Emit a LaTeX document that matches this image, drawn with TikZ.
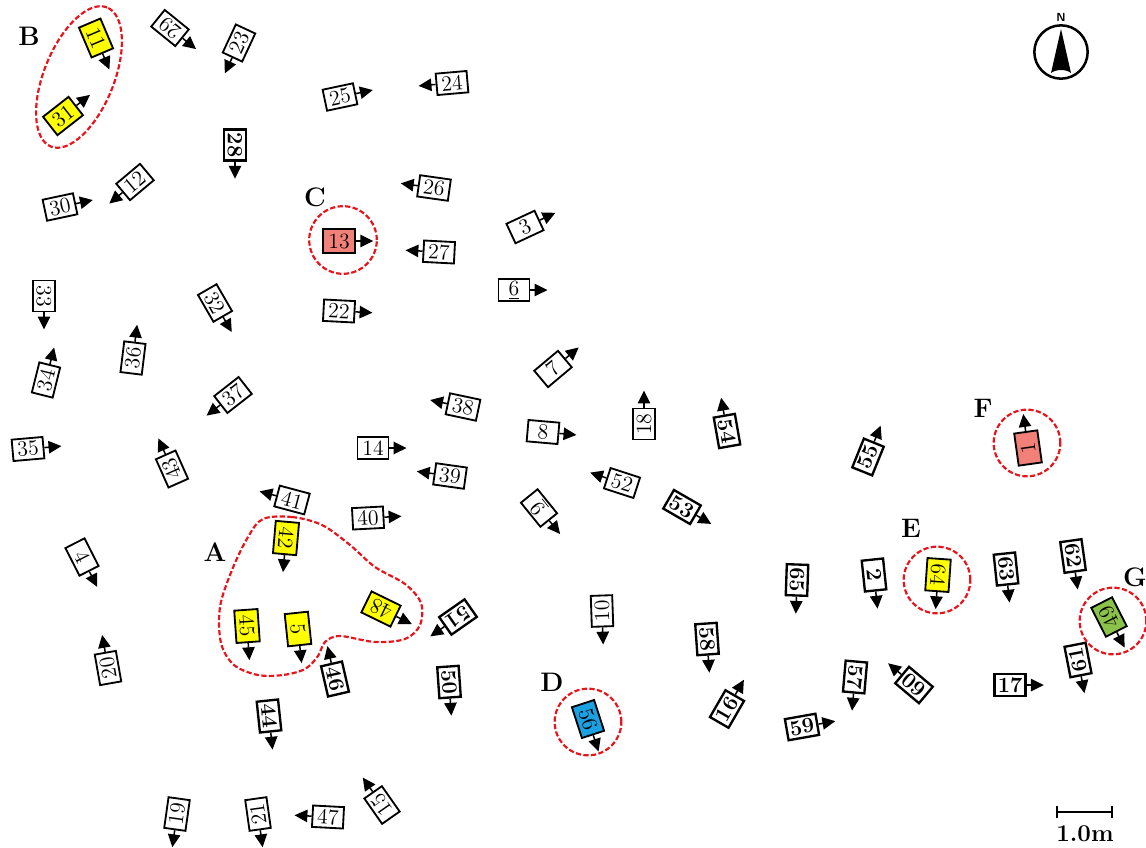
\documentclass[tikz,border=0pt]{standalone}
\usepackage{tikz}
\usetikzlibrary{arrows.meta,calc}
\definecolor{tagyellow}{HTML}{FFFF00}
\definecolor{tagred}{HTML}{F08078}
\definecolor{tagblue}{HTML}{1BA1E2}
\definecolor{taggreen}{HTML}{8BC34A}
\definecolor{zonered}{HTML}{E8141C}
\tikzset{
  tagbox/.style={draw=black,fill=white,line width=1.1pt,minimum width=6.5mm,
                 minimum height=4.5mm,inner sep=0.6pt,
                 font=\fontsize{13}{15}\selectfont},
  boldtag/.style={tagbox,line width=1.4pt,
                  font=\fontsize{13}{15}\selectfont\bfseries},
  colortag/.style={tagbox,minimum width=6.8mm,minimum height=4.9mm},
  tagarr/.style={-{Triangle[length=2.7mm,width=2.6mm]},line width=0.9pt},
  zone/.style={draw=zonered,line width=1.3pt,dash pattern=on 1.1mm off 0.5mm},
  zonelabel/.style={font=\fontsize{16}{18}\selectfont\bfseries}
}

\begin{document}
\begin{tikzpicture}[x=0.21mm,y=-0.21mm]
    \useasboundingbox (0,0) rectangle (1146,847);
    % plain tags: name/x/y/angle/side of the arrow
    \foreach \n/\x/\y/\a/\s in {3/525/227/25/east,7/553/369/40/east,
      8/543/432/-5/east,12/135/182/40/west,14/373/448/0/east,
      15/382/805/125/east,18/644/424/90/east,19/177/814/82/west,
      20/108/668/100/east,21/258/814/98/west,22/339/311/-3/east,
      23/239/43/65/west,24/452/83/5/west,25/340/97/12/east,
      26/434/188/-8/west,27/439/252/-3/west,29/170/28/141/west,
      30/60/207/12/east,32/215/303/-60/east,33/44/296/-90/east,
      34/46/380/76/east,35/28/449/5/east,36/133/358/83/east,
      37/233/395/38/west,38/463/407/-12/west,39/450/476/-8/west,
      40/368/518/3/east,41/292/500/-15/west,43/172/469/114/east,
      47/328/817/-3/west,52/622/483/-18/west,4/82/557/-63/east,
      10/602/611/92/west}{
      \node[tagbox,rotate=\a] (t\n) at (\x,\y) {\n};
      \draw[tagarr] (t\n.\s) -- ($(t\n.\s)!-3.6mm!(t\n.center)$);
    }
    % bold tags
    \foreach \n/\x/\y/\a/\s in {2/874/575/-84/east,16/727/709/60/east,
      17/1010/685/0/east,28/235/145/-90/east,44/269/716/-84/east,
      46/335/679/-77/west,50/449/682/-86/east,51/458/617/215/east,
      53/682/507/-30/east,54/727/431/-80/west,55/868/457/68/east,
      57/855/677/-95/east,58/707/639/-86/east,59/802/727/10/east,
      60/914/685/140/east,61/1078/660/101/west,62/1073/556/-82/east,
      63/1006/569/-84/east,65/797/580/-92/east}{
      \node[boldtag,rotate=\a] (t\n) at (\x,\y) {\n};
      \draw[tagarr] (t\n.\s) -- ($(t\n.\s)!-3.6mm!(t\n.center)$);
    }
    % underlined tags
    \foreach \n/\x/\y/\a/\s in {6/514/290/0/east,9/539/508/129/west}{
      \node[tagbox,rotate=\a] (t\n) at (\x,\y) {\underline{\n}};
      \draw[tagarr] (t\n.\s) -- ($(t\n.\s)!-3.6mm!(t\n.center)$);
    }
    % coloured tags
    \foreach \n/\x/\y/\a/\s/\c in {13/339/241/0/east/tagred,
      1/1028/448/98/east/tagred,11/96/38/-67/east/tagyellow,
      31/63/116/38/east/tagyellow,42/286/538/-95/east/tagyellow,
      45/247/626/-86/east/tagyellow,5/298/629/-84/east/tagyellow,
      48/381/609/154/west/tagyellow,64/938/575/-94/east/tagyellow,
      56/588/719/-72/east/tagblue,49/1109/617/117/west/taggreen}{
      \node[colortag,fill=\c,rotate=\a] (t\n) at (\x,\y) {\n};
      \draw[tagarr] (t\n.\s) -- ($(t\n.\s)!-3.6mm!(t\n.center)$);
    }

    % marked zones
    \draw[zone] plot[smooth cycle,tension=0.55] coordinates {(263,519)
      (292,517) (322,525) (350,545) (375,567) (405,584) (421,603)
      (420,625) (405,639) (375,642) (340,636) (325,642) (318,656)
      (305,669) (283,675) (258,675) (234,665) (221,643) (220,607)
      (232,570) (248,537)};
    \draw[zone,shift={(79,77)},rotate=68] (0,0) ellipse [x radius=15.75mm,y radius=7.35mm];
    \draw[zone] (343,240) circle[radius=7.1mm];
    \draw[zone] (588,722) circle[radius=7.0mm];
    \draw[zone] (937,580) circle[radius=7.0mm];
    \draw[zone] (1027,443) circle[radius=7.0mm];
    \draw[zone] (1113,621) circle[radius=7.0mm];
    \node[zonelabel] (labA) at (215,552) {A};
    \node[zonelabel] (labB) at (29,36) {B};
    \node[zonelabel] (labC) at (315,197) {C};
    \node[zonelabel] (labD) at (552,682) {D};
    \node[zonelabel] (labE) at (911,528) {E};
    \node[zonelabel] (labF) at (983,408) {F};
    \node[zonelabel] (labG) at (1135,577) {G};

    % north mark
    \draw[line width=1.5pt] (1061,52) circle[radius=5.6mm];
    \fill (1061,29) -- (1071,73) .. controls (1066,69) and (1056,69) .. (1051,73) -- cycle;
    \node[font=\sffamily\bfseries\scriptsize] (north) at (1061,17) {N};

    % scale bar
    \coordinate (sbl) at (1056,812);
    \coordinate (sbr) at (1113,812);
    \draw[line width=1.2pt,{Bar[width=2.6mm]}-{Bar[width=2.6mm]}] (sbl) -- (sbr);
    \node[font=\Large\bfseries] (scale) at (1085,834) {1.0m};
\end{tikzpicture}
\end{document}
